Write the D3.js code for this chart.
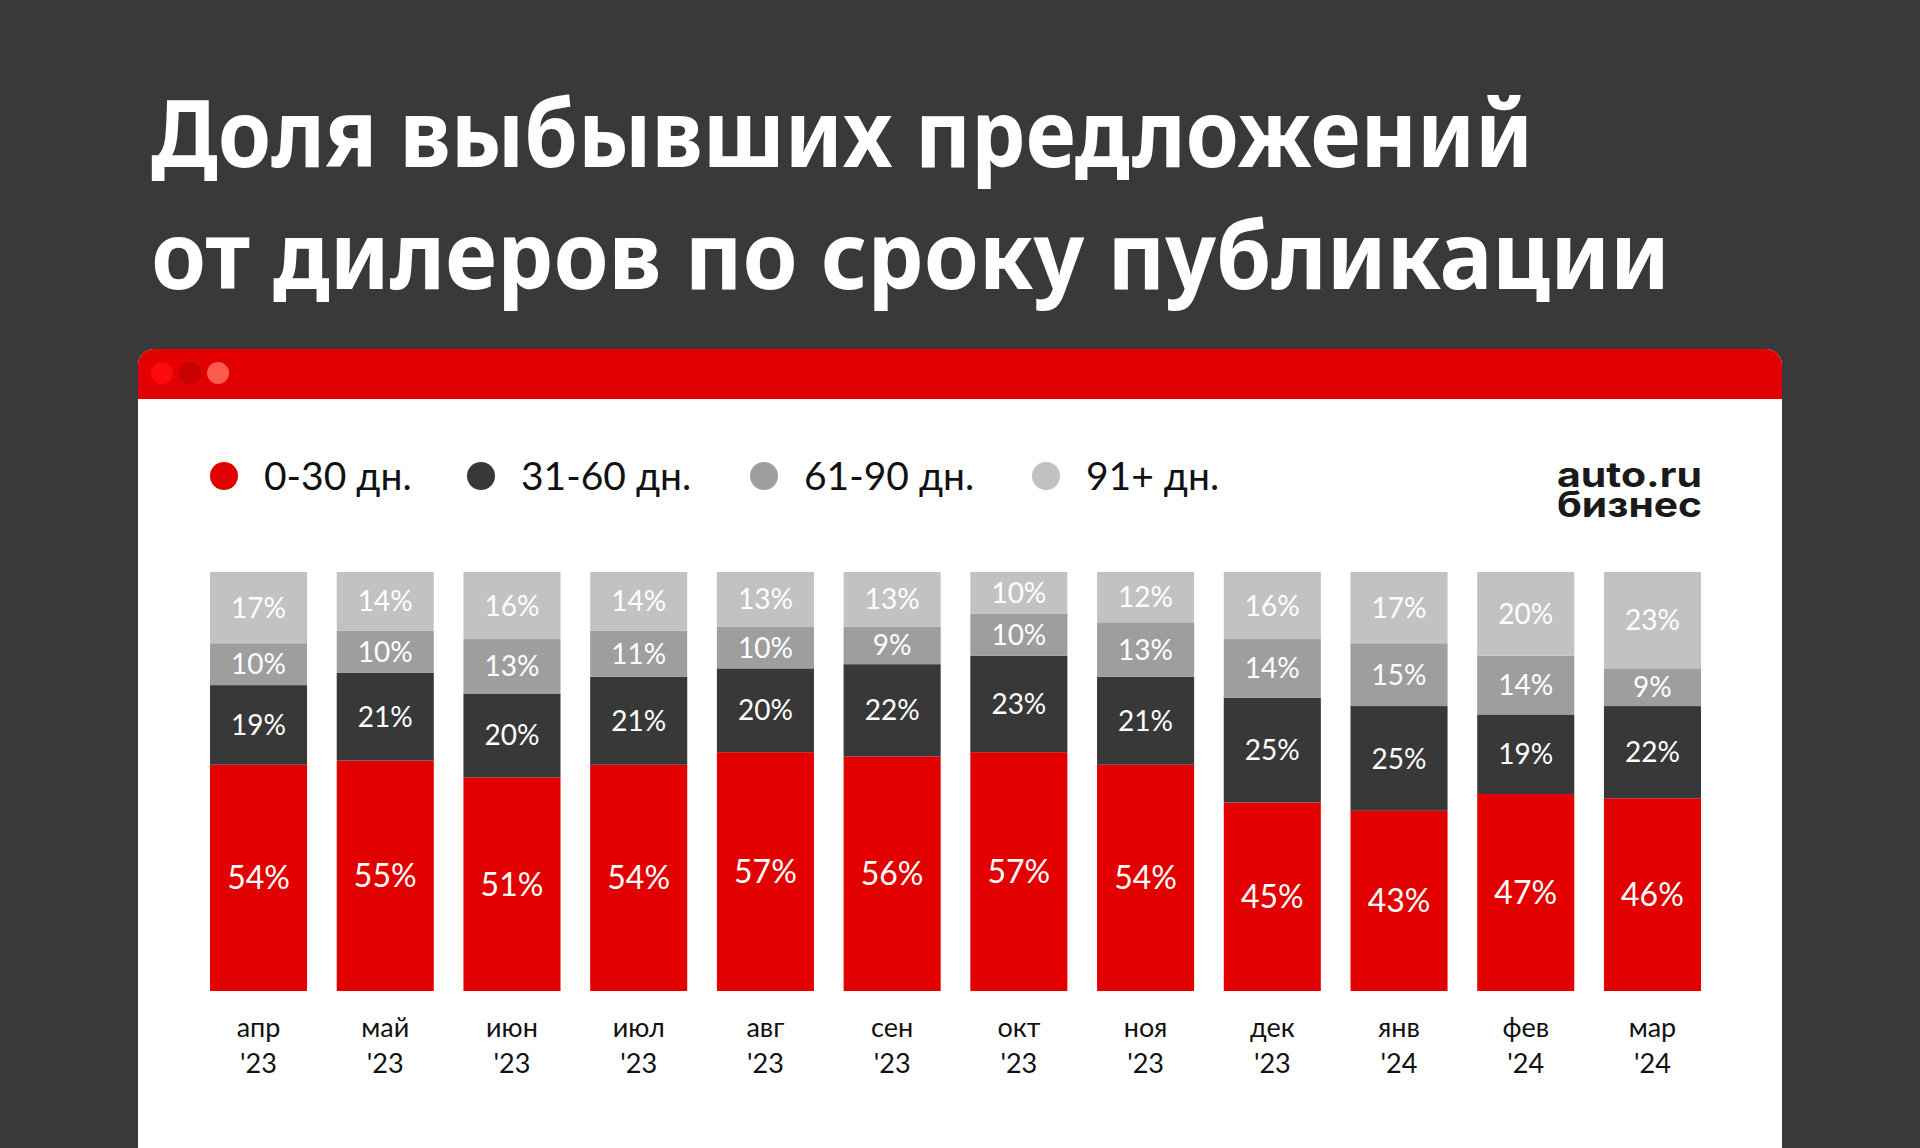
<!DOCTYPE html>
<html>
<head>
<meta charset="utf-8">
<script src="https://cdn.jsdelivr.net/npm/d3@7"></script>
<style>
  html, body { margin: 0; padding: 0; background: #393939; }
  svg { display: block; }
</style>
</head>
<body>
<script>
// chart data
var months = ["апр", "май", "июн", "июл", "авг", "сен", "окт", "ноя", "дек", "янв", "фев", "мар"]
var years = ["'23", "'23", "'23", "'23", "'23", "'23", "'23", "'23", "'23", "'24", "'24", "'24"]
var days0_30 = [54, 55, 51, 54, 57, 56, 57, 54, 45, 43, 47, 46]
var days31_60 = [19, 21, 20, 21, 20, 22, 23, 21, 25, 25, 19, 22]
var days61_90 = [10, 10, 13, 11, 10, 9, 10, 13, 14, 15, 14, 9]
var days91 = [17, 14, 16, 14, 13, 13, 10, 12, 16, 17, 20, 23]
var seriesNames = ["0-30 дн.", "31-60 дн.", "61-90 дн.", "91+ дн."]
var titleLines = ["Доля выбывших предложений", "от дилеров по сроку публикации"]

var colors = ["#e30000", "#383838", "#9e9e9e", "#c2c2c2"]
var keys = ["a", "b", "c", "d"]

var width = 1920
var height = 1148
var font = "Lato, 'Noto Sans', sans-serif"

var rows = months.map(function (m, i) {
    return { month: m, year: years[i], a: days0_30[i], b: days31_60[i], c: days61_90[i], d: days91[i] }
})

var svg = d3.select("body").append("svg")
    .attr("width", width)
    .attr("height", height)

svg.append("rect")
    .attr("width", width)
    .attr("height", height)
    .attr("fill", "#393939")

// title
svg.append("g").selectAll("text")
    .data(titleLines)
    .enter()
    .append("text")
    .attr("x", 151)
    .attr("y", (d, i) => 167 + i * 122)
    .attr("fill", "#ffffff")
    .attr("font-family", "'Noto Sans', sans-serif")
    .attr("font-weight", 700)
    .attr("font-size", 94)
    .attr("textLength", (d, i) => i === 0 ? 1382 : 1519)
    .attr("lengthAdjust", "spacingAndGlyphs")
    .text(d => d)

// card with browser-like header
var card = { x: 138, y: 349, w: 1644, h: 800, r: 16, head: 50 }

function topRounded(h) {
    return "M" + card.x + "," + (card.y + card.r)
        + "a" + card.r + "," + card.r + " 0 0 1 " + card.r + "," + (-card.r)
        + "h" + (card.w - 2 * card.r)
        + "a" + card.r + "," + card.r + " 0 0 1 " + card.r + "," + card.r
        + "V" + (card.y + h) + "H" + card.x + "Z"
}

svg.append("path")
    .attr("fill", "#ffffff")
    .attr("d", topRounded(card.h))

svg.append("path")
    .attr("fill", "#e30000")
    .attr("d", topRounded(card.head))

svg.append("g").selectAll("circle")
    .data(["#ff0a0a", "#c80000", "#ff5a4e"])
    .enter()
    .append("circle")
    .attr("cx", (d, i) => 162 + i * 28)
    .attr("cy", 373)
    .attr("r", 11)
    .attr("fill", d => d)

// legend
var legendX = [210, 467, 750, 1032]
var legend = svg.append("g").selectAll("g")
    .data(seriesNames)
    .enter()
    .append("g")
    .attr("transform", (d, i) => "translate(" + legendX[i] + ",476)")

legend.append("circle")
    .attr("cx", 14)
    .attr("r", 14)
    .attr("fill", (d, i) => colors[i])

legend.append("text")
    .attr("x", 54)
    .attr("y", 14)
    .attr("fill", "#111111")
    .attr("font-family", font)
    .attr("font-size", 39)
    .text(d => d)

// logo
var logo = svg.append("text")
    .attr("text-anchor", "end")
    .attr("fill", "#1a1a1a")
    .attr("font-family", "Inter, 'Noto Sans', sans-serif")
    .attr("font-weight", 700)
    .attr("font-size", 35)

logo.selectAll("tspan")
    .data(["auto.ru", "бизнес"])
    .enter()
    .append("tspan")
    .attr("x", 1702)
    .attr("y", (d, i) => 487 + i * 29.5)
    .attr("textLength", 145)
    .attr("lengthAdjust", "spacingAndGlyphs")
    .text(d => d)

// scales
var xScale = d3.scaleBand()
    .domain(months)
    .range([210, 1701])
    .paddingInner(0.234)
    .paddingOuter(0)

var yScale = d3.scaleLinear()
    .domain([0, 100])
    .range([991, 572])

var stacked = d3.stack().keys(keys)(rows)

var layers = svg.append("g").selectAll("g")
    .data(stacked)
    .enter()
    .append("g")
    .attr("fill", (d, i) => colors[i])

layers.selectAll("rect")
    .data(d => d)
    .enter()
    .append("rect")
    .attr("x", d => xScale(d.data.month))
    .attr("y", d => yScale(d[1]))
    .attr("width", xScale.bandwidth())
    .attr("height", d => yScale(d[0]) - yScale(d[1]))

layers.each(function (layer, li) {
    d3.select(this).selectAll("text")
        .data(layer)
        .enter()
        .append("text")
        .attr("x", d => xScale(d.data.month) + xScale.bandwidth() / 2)
        .attr("y", d => (yScale(d[0]) + yScale(d[1])) / 2)
        .attr("dy", "0.36em")
        .attr("text-anchor", "middle")
        .attr("fill", "#ffffff")
        .attr("font-family", font)
        .attr("font-size", li === 0 ? 32 : 28)
        .text(d => (d[1] - d[0]) + "%")
})

// month axis
var xAxis = svg.append("g").selectAll("text")
    .data(rows)
    .enter()
    .append("text")
    .attr("x", d => xScale(d.month) + xScale.bandwidth() / 2)
    .attr("text-anchor", "middle")
    .attr("fill", "#111111")
    .attr("font-family", font)
    .attr("font-size", 27)

xAxis.append("tspan")
    .attr("x", d => xScale(d.month) + xScale.bandwidth() / 2)
    .attr("y", 1037)
    .text(d => d.month)

xAxis.append("tspan")
    .attr("x", d => xScale(d.month) + xScale.bandwidth() / 2)
    .attr("y", 1073)
    .text(d => d.year)
</script>
</body>
</html>
